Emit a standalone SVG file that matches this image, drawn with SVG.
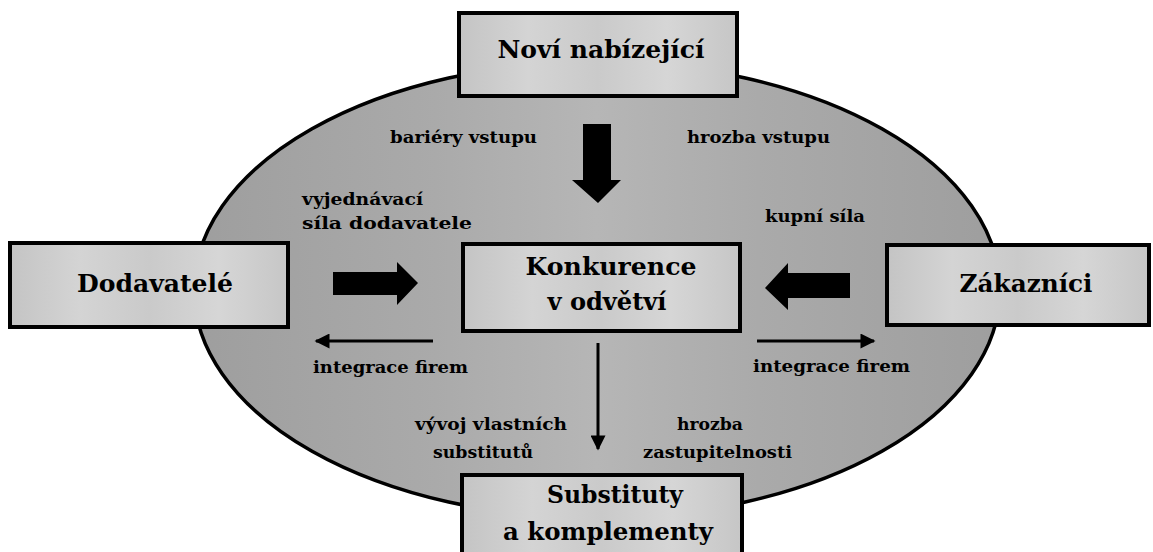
<svg xmlns="http://www.w3.org/2000/svg" width="1153" height="552" viewBox="0 0 1153 552">
  <style>
    .box { fill: url(#boxFill); stroke: #000; stroke-width: 4; }
    .title { font-family: "DejaVu Serif", "Liberation Serif", serif; font-weight: bold; font-size: 24px; fill: #000; text-anchor: middle; }
    .lbl { font-family: "DejaVu Serif", "Liberation Serif", serif; font-weight: bold; font-size: 16px; fill: #000; }
    .big { fill: #000; }
    .thin { stroke: #000; stroke-width: 3; fill: none; }
  </style>
  <defs>
    <linearGradient id="ovalFill" x1="0" y1="0" x2="1" y2="0">
      <stop offset="0" stop-color="#9e9e9e"/>
      <stop offset="0.3" stop-color="#aaaaaa"/>
      <stop offset="0.5" stop-color="#b6b6b6"/>
      <stop offset="0.7" stop-color="#aaaaaa"/>
      <stop offset="1" stop-color="#9e9e9e"/>
    </linearGradient>
    <linearGradient id="boxFill" x1="0" y1="0" x2="1" y2="0">
      <stop offset="0" stop-color="#c4c4c4"/>
      <stop offset="0.25" stop-color="#d4d4d4"/>
      <stop offset="0.5" stop-color="#cacaca"/>
      <stop offset="0.75" stop-color="#d6d6d6"/>
      <stop offset="1" stop-color="#c6c6c6"/>
    </linearGradient>
    <marker id="head" viewBox="0 0 10 10" refX="9" refY="5" markerWidth="7" markerHeight="5" markerUnits="strokeWidth" orient="auto">
      <path d="M0,0 L10,5 L0,10 Z" fill="#000"/>
    </marker>
  </defs>

  <rect width="1153" height="552" fill="#fff"/>

  <!-- industry field -->
  <ellipse id="field" cx="597" cy="290" rx="403" ry="228" fill="url(#ovalFill)" stroke="#000" stroke-width="3.5"/>

  <!-- connectors -->
  <g id="connectors">
    <!-- entry of new competitors -->
    <path class="big" d="M583,124 H611 V180 H621 L598,203 L572,180 H583 Z"/>
    <!-- supplier power -->
    <path class="big" d="M333,272 H397 V262 L418,283 L397,305 V295 H333 Z"/>
    <!-- buyer power -->
    <path class="big" d="M850,273 H788 V263 L765,288 L788,310 V298 H850 Z"/>
    <!-- backward / forward integration -->
    <line class="thin" x1="433" y1="341" x2="316" y2="341" marker-end="url(#head)"/>
    <line class="thin" x1="757" y1="341" x2="874" y2="341" marker-end="url(#head)"/>
    <!-- towards substitutes -->
    <line class="thin" x1="598" y1="343" x2="598" y2="449" marker-end="url(#head)"/>
  </g>

  <!-- arrow labels -->
  <g id="labels">
    <text class="lbl" x="390" y="143" textLength="147" lengthAdjust="spacingAndGlyphs">bariéry vstupu</text>
    <text class="lbl" x="687" y="143" textLength="143" lengthAdjust="spacingAndGlyphs">hrozba vstupu</text>
    <text class="lbl" x="302" y="205" textLength="121" lengthAdjust="spacingAndGlyphs">vyjednávací</text>
    <text class="lbl" x="302" y="229" textLength="170" lengthAdjust="spacingAndGlyphs">síla dodavatele</text>
    <text class="lbl" x="765" y="222" textLength="100" lengthAdjust="spacingAndGlyphs">kupní síla</text>
    <text class="lbl" x="313" y="373" textLength="155" lengthAdjust="spacingAndGlyphs">integrace firem</text>
    <text class="lbl" x="753" y="372" textLength="157" lengthAdjust="spacingAndGlyphs">integrace firem</text>
    <text class="lbl" x="415" y="430" textLength="152" lengthAdjust="spacingAndGlyphs">vývoj vlastních</text>
    <text class="lbl" x="433" y="458" textLength="100" lengthAdjust="spacingAndGlyphs">substitutů</text>
    <text class="lbl" x="677" y="430" textLength="66" lengthAdjust="spacingAndGlyphs">hrozba</text>
    <text class="lbl" x="643" y="458" textLength="149" lengthAdjust="spacingAndGlyphs">zastupitelnosti</text>
  </g>

  <!-- forces -->
  <g id="new-entrants">
    <rect class="box" x="459" y="13" width="278" height="83"/>
    <text class="title" x="601" y="58" textLength="207" lengthAdjust="spacingAndGlyphs">Noví nabízející</text>
  </g>
  <g id="suppliers">
    <rect class="box" x="10" y="243" width="278" height="84"/>
    <text class="title" x="155" y="292" font-size="25" textLength="156" lengthAdjust="spacingAndGlyphs">Dodavatelé</text>
  </g>
  <g id="rivalry">
    <rect class="box" x="463" y="244" width="277" height="87"/>
    <text class="title" x="611" y="275" textLength="171" lengthAdjust="spacingAndGlyphs">Konkurence</text>
    <text class="title" x="607" y="310" textLength="119" lengthAdjust="spacingAndGlyphs">v odvětví</text>
  </g>
  <g id="customers">
    <rect class="box" x="887" y="245" width="262" height="80"/>
    <text class="title" x="1026" y="292" font-size="25" textLength="133" lengthAdjust="spacingAndGlyphs">Zákazníci</text>
  </g>
  <g id="substitutes">
    <rect class="box" x="462" y="475" width="280" height="90"/>
    <text class="title" x="615" y="503" textLength="136" lengthAdjust="spacingAndGlyphs">Substituty</text>
    <text class="title" x="608" y="540" textLength="210" lengthAdjust="spacingAndGlyphs">a komplementy</text>
  </g>
</svg>
